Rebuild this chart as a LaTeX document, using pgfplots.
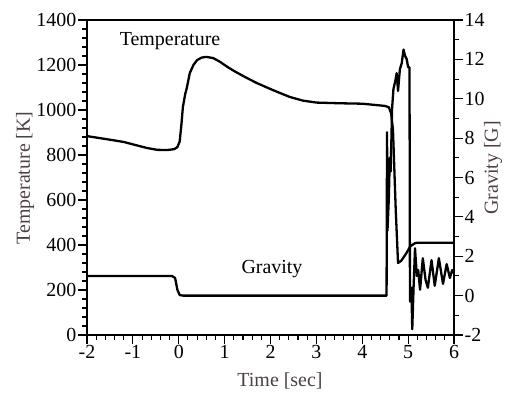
\documentclass[border=0pt]{standalone}
\usepackage{pgfplots}
\pgfplotsset{compat=1.18}
\usepackage{fontspec}
\setmainfont{Liberation Serif}
\definecolor{lab}{RGB}{78,62,72}
\begin{document}
\begin{tikzpicture}[x=1bp,y=1bp]
\pgfplotsset{
  myax/.style={
    at={(0,0)}, anchor=south west,
    width=367bp, height=315bp, scale only axis,
    xmin=-2, xmax=6,
    tick align=outside,
    major tick length=9bp, minor tick length=5bp,
    every tick/.style={line width=1.1bp, black},
    axis line style={line width=1.6bp},
    tick label style={font=\fontsize{20}{24}\selectfont, inner sep=1.5bp},
    /pgf/number format/1000 sep={},
  }
}
\begin{axis}[myax,
  ymin=0, ymax=1400,
  xtick={-2,-1,0,1,2,3,4,5,6},
  xticklabels={\textrm{-2},\textrm{-1},\textrm{0},\textrm{1},\textrm{2},\textrm{3},\textrm{4},\textrm{5},\textrm{6}},
  ytick={0,200,400,600,800,1000,1200,1400},
  yticklabels={\textrm{0},\textrm{200},\textrm{400},\textrm{600},\textrm{800},\textrm{1000},\textrm{1200},\textrm{1400}},
  minor x tick num=4, minor y tick num=4,
  xtick pos=bottom, ytick pos=left,
]
\addplot[black, line width=2.3bp, line join=round] coordinates {
(-2,884) (-1.5,868) (-1.2,858) (-0.9,842) (-0.69,831) (-0.47,823) (-0.25,822)
(-0.1,826) (-0.03,835) (0.02,860) (0.06,940) (0.09,1013) (0.14,1070) (0.18,1102)
(0.24,1164) (0.32,1200) (0.40,1222) (0.5,1233) (0.6,1236) (0.75,1231) (0.9,1214)
(1.05,1193) (1.2,1174) (1.45,1146) (1.7,1120) (2.0,1093) (2.25,1072) (2.42,1058)
(2.7,1042) (3.0,1033) (3.5,1030) (4.0,1028) (4.3,1022) (4.5,1018) (4.58,1012)
(4.63,985) (4.67,911) (4.73,555) (4.78,320) (4.85,330) (4.95,360) (5.05,395)
(5.15,408) (5.2,410) (6,410)
};
\end{axis}
\begin{axis}[myax,
  ymin=-2, ymax=14,
  axis x line=none,
  axis y line*=right,
  ytick={-2,0,2,4,6,8,10,12,14},
  yticklabels={\textrm{-2},\textrm{0},\textrm{2},\textrm{4},\textrm{6},\textrm{8},\textrm{10},\textrm{12},\textrm{14}},
  minor y tick num=1,
]
\addplot[black, line width=2.3bp, line join=round] coordinates {
(-2,1.0) (-0.15,1.0) (-0.08,0.9) (-0.03,0.3) (0.02,0.03) (0.1,0) (4.53,0)
(4.54,8.3) (4.55,3.3) (4.58,5) (4.6,7) (4.62,6.3) (4.65,9.5) (4.68,10.5)
(4.72,10.9) (4.75,11.3) (4.78,10.4) (4.82,11.5) (4.86,11.8) (4.9,12.5)
(4.93,12.2) (4.97,12.0) (5.0,11.6) (5.03,11.6) (5.04,-0.3) (5.07,0.4)
(5.09,-1.7) (5.12,0.5) (5.15,2.4) (5.19,1.0) (5.22,1.3) (5.26,0.3) (5.32,1.9)
(5.38,0.8) (5.43,0.4) (5.51,1.8) (5.58,0.5) (5.67,1.9) (5.76,0.6) (5.84,1.6)
(5.91,0.9) (5.96,1.3) (6.0,1.15)
};
\end{axis}
\node[font=\fontsize{20}{24}\selectfont] at (83,294) {Temperature};
\node[font=\fontsize{20}{24}\selectfont] at (185,66) {Gravity};
\node[font=\fontsize{20}{24}\selectfont, text=lab] at (193,-46) {Time [sec]};
\node[font=\fontsize{20}{24}\selectfont, text=lab, rotate=90] at (-62,157) {Temperature [K]};
\node[font=\fontsize{20}{24}\selectfont, text=lab, rotate=90] at (406,167) {Gravity [G]};
\pgfresetboundingbox
\path[use as bounding box] (-87,-62) rectangle (425,335);
\end{tikzpicture}
\end{document}
